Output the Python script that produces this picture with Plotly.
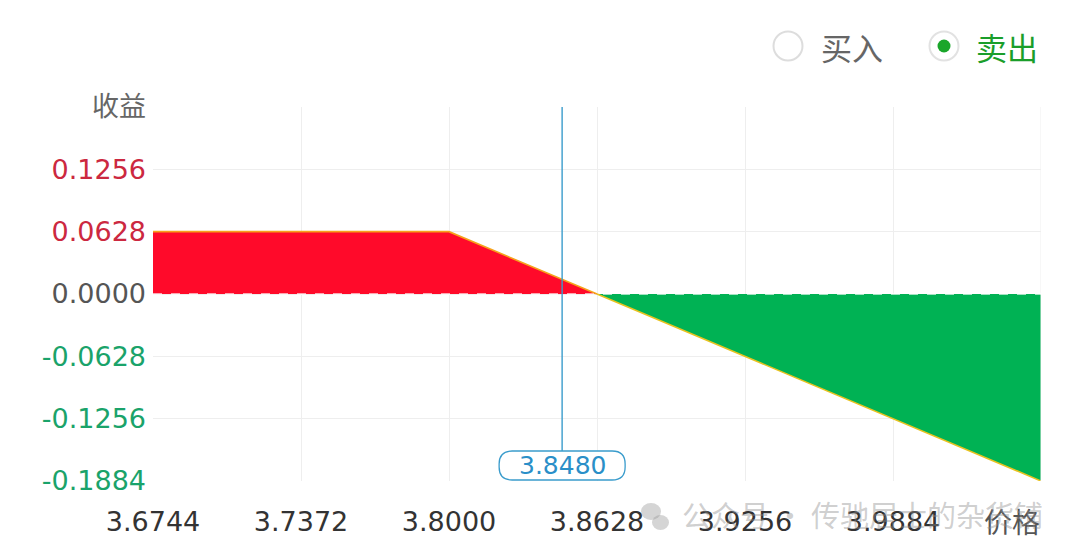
import plotly.graph_objects as go

# ---- data ----
price_profit = [3.6744, 3.8000, 3.8628]
payoff_profit = [0.0628, 0.0628, 0.0]
price_loss = [3.8628, 4.0512]
payoff_loss = [0.0, -0.1884]
marker_price = 3.8480
marker_label = "3.8480"

x_ticks = [3.6744, 3.7372, 3.8000, 3.8628, 3.9256, 3.9884]
x_ticktext = ["3.6744", "3.7372", "3.8000", "3.8628", "3.9256", "3.9884"]
x_axis_title = "价格"
y_ticks = [0.1884, 0.1256, 0.0628, 0.0, -0.0628, -0.1256, -0.1884]
y_ticktext = ["收益", "0.1256", "0.0628", "0.0000", "-0.0628", "-0.1256", "-0.1884"]
y_tickcolors = ["#666666", "#cc2840", "#cc2840", "#555555", "#1aa36a", "#1aa36a", "#1aa36a"]
legend_items = ["买入", "卖出"]
watermark = "公众号 · 传驰居士的杂货铺"

XMIN, XMAX = 3.6744, 4.0512
YMIN, YMAX = -0.1884, 0.1884

FONT = "DejaVu Sans, Noto Sans CJK SC, sans-serif"
CJK = "Noto Sans CJK SC, sans-serif"

fig = go.Figure()
fig.add_trace(go.Scatter(
    x=price_profit, y=payoff_profit, mode="lines", fill="tozeroy",
    fillcolor="#ff0a2a", line=dict(color="#f7a21b", width=1.6), hoverinfo="skip"))
fig.add_trace(go.Scatter(
    x=price_loss, y=payoff_loss, mode="lines", fill="tozeroy",
    fillcolor="#00b254", line=dict(color="#e8c21e", width=1.6), hoverinfo="skip"))

ticktext_col = [f"<span style='color:{c}'>{t}</span>" for t, c in zip(y_ticktext, y_tickcolors)]

# page body has an 8px default margin; margins compensate so the plot sits at 153..1041 x 107..481
fig.update_layout(
    width=1080, height=558,
    margin=dict(l=145, r=47, t=99, b=85),
    paper_bgcolor="white", plot_bgcolor="white",
    showlegend=False,
    font=dict(family=FONT, size=27, color="#333333"),
    xaxis=dict(range=[XMIN, XMAX], tickvals=x_ticks, ticktext=x_ticktext,
               showgrid=True, gridcolor="#eeeeee", gridwidth=1,
               zeroline=False, showline=False, ticks="",
               ticklabelstandoff=22,
               tickfont=dict(size=27, color="#333333", family=FONT)),
    yaxis=dict(range=[YMIN, YMAX], tickvals=y_ticks, ticktext=ticktext_col,
               showgrid=True, gridcolor="#eeeeee", gridwidth=1,
               zeroline=False, showline=False, ticks="",
               ticklabelstandoff=6,
               tickfont=dict(size=27, family=FONT)),
)

# right edge grid line
fig.add_shape(type="line", xref="x", yref="paper", x0=XMAX, x1=XMAX, y0=0, y1=1,
              line=dict(color="#eeeeee", width=1))

# dashed zero line
fig.add_shape(type="line", xref="x", yref="y", x0=XMIN, x1=XMAX, y0=0, y1=0,
              line=dict(color="rgba(255,255,255,0.85)", width=1.5, dash="dash"), layer="above")

# vertical marker line
fig.add_shape(type="line", xref="x", yref="paper", x0=marker_price, x1=marker_price,
              y0=29 / 374, y1=1, line=dict(color="#3a9ccc", width=1.4))

# rounded label box
w, h, r = 126, 29, 13
hw = w / 2
path = (f"M {-hw + r},1 L {hw - r},1 Q {hw},1 {hw},{1 + r} L {hw},{h - r + 1} "
        f"Q {hw},{h + 1} {hw - r},{h + 1} L {-hw + r},{h + 1} Q {-hw},{h + 1} {-hw},{h - r + 1} "
        f"L {-hw},{1 + r} Q {-hw},1 {-hw + r},1 Z")
fig.add_shape(type="path", xref="x", yref="paper", xsizemode="pixel", ysizemode="pixel",
              xanchor=marker_price, yanchor=0, path=path,
              fillcolor="white", line=dict(color="#3a9ccc", width=1.3))
fig.add_annotation(x=marker_price, xref="x", y=15.5 / 374, yref="paper",
                   xanchor="center", yanchor="middle",
                   text=marker_label, showarrow=False,
                   font=dict(size=25, color="#2a8fc8", family=FONT))


def px2paper(px, py):
    return (px - 153) / 888, (481 - py) / 374


# x axis title at end
ax, ay = px2paper(1012, 521)
fig.add_annotation(x=ax, xref="paper", y=ay, yref="paper", xanchor="center", yanchor="middle",
                   text=x_axis_title, showarrow=False,
                   font=dict(size=28, color="#555555", family=CJK))

# legend radio buttons
cx, cy = px2paper(788, 46)
fig.add_shape(type="circle", xref="paper", yref="paper", xsizemode="pixel", ysizemode="pixel",
              xanchor=cx, yanchor=cy, x0=-14.5, x1=14.5, y0=-14.5, y1=14.5,
              line=dict(color="#dddddd", width=2), fillcolor="white")
tx, ty = px2paper(852, 46)
fig.add_annotation(x=tx, y=ty, xref="paper", yref="paper", xanchor="center", yanchor="middle",
                   text=legend_items[0], showarrow=False,
                   font=dict(size=31, color="#666666", family=CJK))

cx2, cy2 = px2paper(944, 46)
fig.add_shape(type="circle", xref="paper", yref="paper", xsizemode="pixel", ysizemode="pixel",
              xanchor=cx2, yanchor=cy2, x0=-14.5, x1=14.5, y0=-14.5, y1=14.5,
              line=dict(color="#e2e2e2", width=2), fillcolor="white")
fig.add_shape(type="circle", xref="paper", yref="paper", xsizemode="pixel", ysizemode="pixel",
              xanchor=cx2, yanchor=cy2, x0=-6.5, x1=6.5, y0=-6.5, y1=6.5,
              line=dict(color="#1aa62a", width=0), fillcolor="#1aa62a")
tx2, ty2 = px2paper(1007, 46)
fig.add_annotation(x=tx2, y=ty2, xref="paper", yref="paper", xanchor="center", yanchor="middle",
                   text=legend_items[1], showarrow=False,
                   font=dict(size=31, color="#1a9e2a", family=CJK))

# watermark
wx, wy = px2paper(655, 516)
fig.add_shape(type="circle", xref="paper", yref="paper", xsizemode="pixel", ysizemode="pixel",
              xanchor=wx, yanchor=wy, x0=-14, x1=6, y0=-4, y1=13,
              line=dict(width=0), fillcolor="rgba(150,150,150,0.4)")
fig.add_shape(type="circle", xref="paper", yref="paper", xsizemode="pixel", ysizemode="pixel",
              xanchor=wx, yanchor=wy, x0=-3, x1=14, y0=-14, y1=1,
              line=dict(width=0), fillcolor="rgba(150,150,150,0.4)")
mx, my = px2paper(862, 514)
fig.add_annotation(x=mx, y=my, xref="paper", yref="paper", xanchor="center", yanchor="middle",
                   text=watermark, showarrow=False,
                   font=dict(size=29, color="rgba(140,140,140,0.42)", family=CJK))

fig.write_html("out.html")
